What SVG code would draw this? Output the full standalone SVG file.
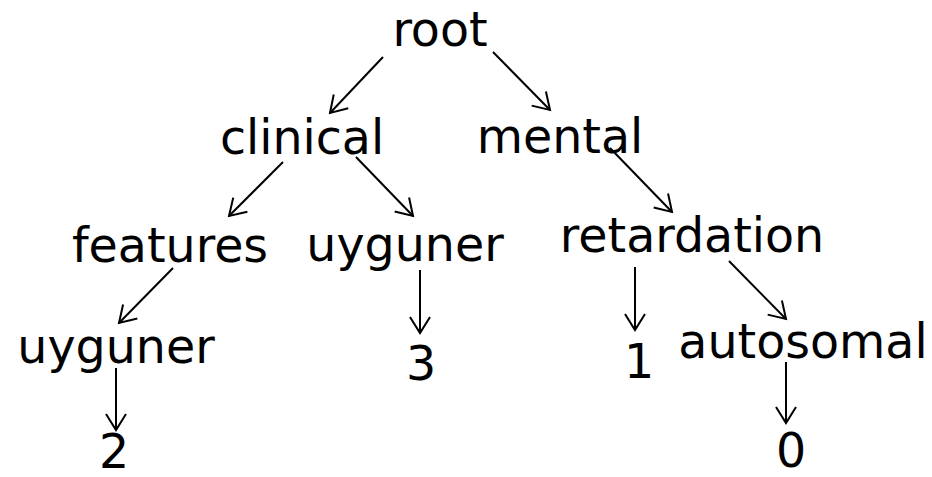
<svg xmlns="http://www.w3.org/2000/svg" width="932" height="477" viewBox="0 0 932 477">
<defs>
<style>
text{font-family:Verdana,"DejaVu Sans",sans-serif;font-size:47.5px;fill:#000;text-anchor:middle}
.e line{stroke:#000;stroke-width:2;fill:none;marker-end:url(#a)}
</style>
<marker id="a" markerUnits="userSpaceOnUse" markerWidth="40" markerHeight="40" refX="0" refY="0" viewBox="-20 -20 40 40" orient="auto" overflow="visible">
<path d="M-16,-10 L0,0 L-16,10" fill="none" stroke="#000" stroke-width="2"/>
</marker>
</defs>
<rect width="932" height="477" fill="#fff"/>
<g class="e" id="connectors">
<line x1="383" y1="57" x2="330" y2="113"/>
<line x1="493" y1="52" x2="550" y2="110"/>
<line x1="283" y1="162" x2="229" y2="216"/>
<line x1="356" y1="157" x2="413" y2="216"/>
<line x1="610" y1="148" x2="672" y2="212"/>
<line x1="173" y1="268" x2="119" y2="323"/>
<line x1="116" y1="368" x2="116" y2="430"/>
<line x1="420" y1="270" x2="420" y2="333"/>
<line x1="635" y1="267" x2="635" y2="330"/>
<line x1="729" y1="261" x2="786" y2="319"/>
<line x1="786" y1="362" x2="786" y2="423"/>
</g>
<g id="root"><text x="440" y="46">root</text></g>
<g id="clinical"><text x="302" y="154">clinical</text></g>
<g id="mental"><text x="560" y="153">mental</text></g>
<g id="features"><text x="170" y="262">features</text></g>
<g id="uyguner1"><text x="405" y="261">uyguner</text></g>
<g id="retardation"><text x="692" y="252">retardation</text></g>
<g id="uyguner2"><text x="116" y="363">uyguner</text></g>
<g id="n3"><text x="421" y="380">3</text></g>
<g id="n1"><text x="639" y="378">1</text></g>
<g id="autosomal"><text x="803" y="358">autosomal</text></g>
<g id="n2"><text x="114" y="468">2</text></g>
<g id="n0"><text x="791" y="467">0</text></g>
</svg>
